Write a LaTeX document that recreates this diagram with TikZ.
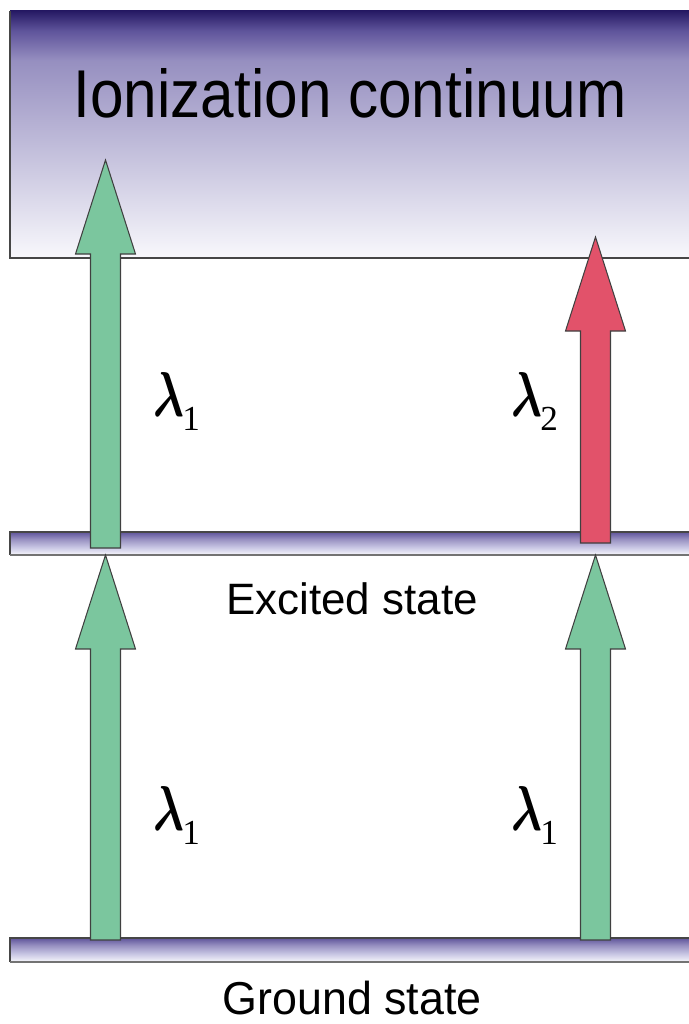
\documentclass[tikz,border=0pt]{standalone}
\usepackage{amsmath}
\usepackage{graphicx}
\usepackage{fontspec}
\setmainfont{Liberation Sans}
\newfontfamily\lamfont{Liberation Serif}
\usetikzlibrary{calc}

\definecolor{levelline}{RGB}{70,70,70}
\definecolor{armgreen}{RGB}{123,198,158}
\definecolor{armred}{RGB}{226,82,106}
\definecolor{navytop}{RGB}{38,26,100}
\definecolor{navymid}{RGB}{95,84,155}
\definecolor{lavender}{RGB}{150,143,192}
\definecolor{palelav}{RGB}{200,198,228}
\definecolor{nearwhite}{RGB}{248,248,252}

\pgfdeclareverticalshading{continuum}{100bp}{color(0bp)=(nearwhite); color(25bp)=(nearwhite);
  color(65bp)=(lavender); color(71bp)=(navymid); color(75bp)=(navytop); color(100bp)=(navytop)}
\pgfdeclareverticalshading{levelband}{100bp}{color(0bp)=(nearwhite); color(25bp)=(nearwhite);
  color(42bp)=(palelav); color(60bp)=(lavender); color(75bp)=(navymid); color(100bp)=(navymid)}

% fat photon arrow: fill colour, foot, tip
\newcommand{\photon}[3]{%
  \draw[arrowline, fill=#1] ($(#2)+(-15,0)$) -- ($(#3)+(-15,94)$) -- ($(#3)+(-30,94)$) -- (#3)
    -- ($(#3)+(30,94)$) -- ($(#3)+(15,94)$) -- ($(#2)+(15,0)$) -- cycle;}
\newcommand{\lam}[1]{\scalebox{1.05}[1.45]{$\boldsymbol{\lambda}$}\kern-1pt\raisebox{-0.2em}{\lamfont\fontsize{20}{20}\selectfont #1}}

\begin{document}
\begin{tikzpicture}[x=0.02cm, y=-0.02cm,
    titletext/.style={font=\fontsize{35}{40}\selectfont, inner sep=0pt},
    levelname/.style={font=\fontsize{25}{30}\selectfont, inner sep=0pt},
    lam/.style={font=\fontsize{42}{46}\selectfont, inner sep=0pt, anchor=base west},
    arrowline/.style={draw=black!75, line width=0.6pt, line join=miter}]
    \useasboundingbox (0,0) rectangle (689,1024);
    \clip (0,0) rectangle (689,1024);

    % continuum and the two levels
    \shade[shading=continuum] (10,11) rectangle (700,258);
    \draw[levelline, line width=0.9pt] (10,11) -- (10,258) -- (700,258);
    \foreach \ytop/\ybot in {532/555, 938/962} {
        \shade[shading=levelband] (10,\ytop) rectangle (700,\ybot);
        \draw[levelline, line width=0.9pt] (700,\ytop) -- (10,\ytop) -- (10,\ybot);
        \draw[black!55, line width=0.7pt] (10,\ybot) -- (700,\ybot);
    }

    \node[titletext, anchor=base] (cont) at (350,117) {\scalebox{0.98}[1.1]{Ionization continuum}};
    \node[levelname, anchor=base] (exc) at (352,614) {Excited state};
    \node[levelname, anchor=base] (gnd) at (352,1014) {\scalebox{1.02}[1.05]{Ground state}};

    \coordinate (footA) at (105.5,940);
    \coordinate (tipA) at (105.5,555);
    \coordinate (footB) at (595.5,940);
    \coordinate (tipB) at (595.5,555);
    \coordinate (footC) at (105.5,548);
    \coordinate (tipC) at (105.5,160);
    \coordinate (footD) at (595.5,543);
    \coordinate (tipD) at (595.5,237);

    \photon{armgreen}{footA}{tipA}
    \photon{armgreen}{footB}{tipB}
    \photon{armgreen}{footC}{tipC}
    \photon{armred}{footD}{tipD}

    \node[lam] (lamC) at (153,416) {\lam{1}};
    \node[lam] (lamD) at (511,416) {\lam{2}};
    \node[lam] (lamA) at (153,830) {\lam{1}};
    \node[lam] (lamB) at (511,830) {\lam{1}};
\end{tikzpicture}
\end{document}
